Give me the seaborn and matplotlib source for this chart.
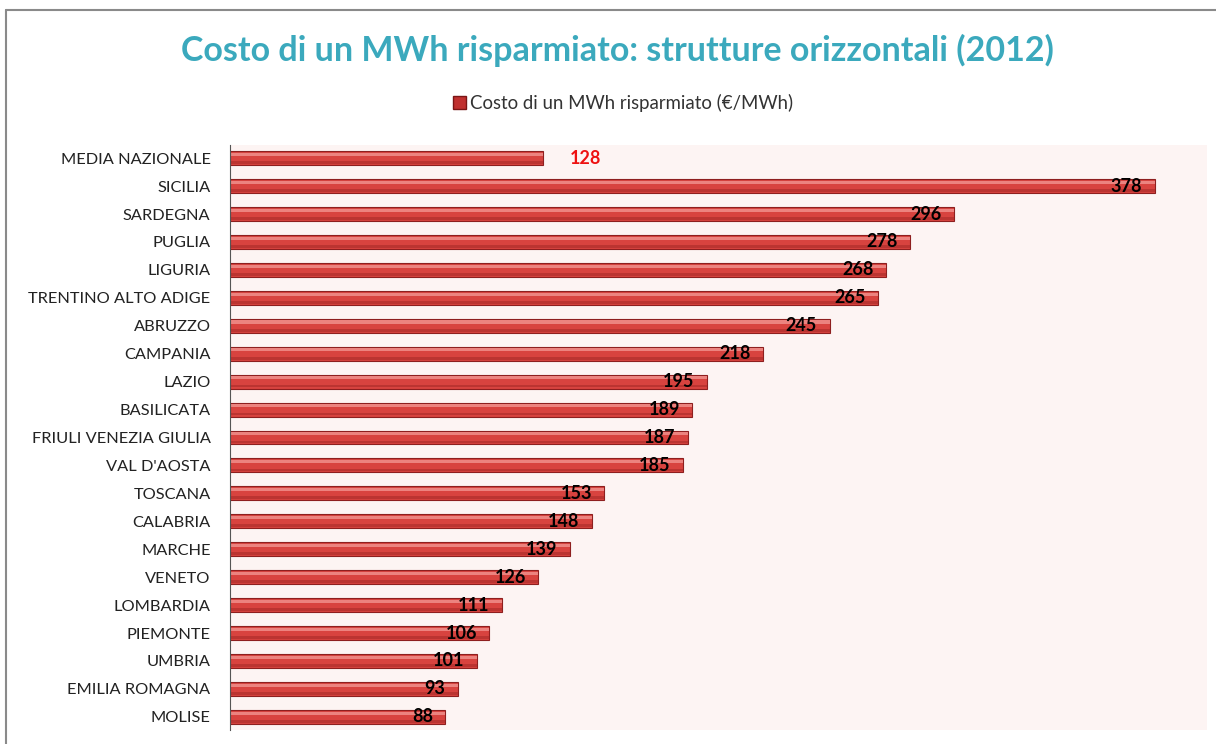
import numpy as np
import pandas as pd
import matplotlib
matplotlib.use("Agg")
import matplotlib.pyplot as plt
import seaborn as sns
from matplotlib.lines import Line2D
from matplotlib.patches import Rectangle

# regioni e costo (€/MWh)
regioni = ["MEDIA NAZIONALE", "SICILIA", "SARDEGNA", "PUGLIA", "LIGURIA",
           "TRENTINO ALTO ADIGE", "ABRUZZO", "CAMPANIA", "LAZIO", "BASILICATA",
           "FRIULI VENEZIA GIULIA", "VAL D'AOSTA", "TOSCANA", "CALABRIA",
           "MARCHE", "VENETO", "LOMBARDIA", "PIEMONTE", "UMBRIA",
           "EMILIA ROMAGNA", "MOLISE"]
costo = [128, 378, 296, 278, 268, 265, 245, 218, 195, 189, 187, 185,
         153, 148, 139, 126, 111, 106, 101, 93, 88]
serie = "Costo di un MWh risparmiato (€/MWh)"
titolo = "Costo di un MWh risparmiato: strutture orizzontali (2012)"

df = pd.DataFrame({"regione": regioni, "costo": costo})

sns.set_style("white")
plt.rcParams['font.family'] = ['Lato', 'DejaVu Sans']

fig = plt.figure(figsize=(12.16, 7.44), dpi=100)
fig.patch.set_facecolor("white")
ax = fig.add_axes([230 / 1216, 1 - 730 / 744, (1207 - 230) / 1216, (730 - 145) / 744])
ax.set_facecolor("#fdf4f3")

sns.barplot(data=df, y="regione", x="costo", orient="h", color="#d8433f",
            saturation=1, width=0.5, edgecolor="#8e1f1f", linewidth=0.8, ax=ax)

# light stripe on top and darker stripe at the bottom of each bar
for p in list(ax.patches):
    x0, y0 = p.get_x(), p.get_y()
    w, h = p.get_width(), p.get_height()
    ax.add_patch(Rectangle((x0, y0 + h * 0.12), w, h * 0.22,
                           facecolor="#f29490", edgecolor="none", alpha=0.8))
    ax.add_patch(Rectangle((x0, y0 + h * 0.72), w, h * 0.2,
                           facecolor="#a82a28", edgecolor="none", alpha=0.6))

ax.set_xlim(0, (1207 - 230) / 2.447)
ax.set_ylim(20.47, -0.47)
ax.set_xlabel("")
ax.set_ylabel("")
ax.set_xticks([])
ax.tick_params(axis="y", length=0, pad=14, labelsize=11.8, labelcolor="#222222")
for s in ["top", "right", "bottom"]:
    ax.spines[s].set_visible(False)
ax.spines["left"].set_color("#555555")
ax.spines["left"].set_linewidth(0.8)

for i, v in enumerate(costo):
    if i == 0:
        ax.annotate(str(v), (v, i), xytext=(19, 0), textcoords="offset points",
                    ha="left", va="center", color="#ee1111",
                    fontsize=13, fontweight="bold")
    else:
        ax.annotate(str(v), (v, i), xytext=(-9, 0), textcoords="offset points",
                    ha="right", va="center", color="black",
                    fontsize=13, fontweight="bold")

fig.text(617 / 1216, 1 - 50 / 744, titolo, ha="center", va="center",
         fontsize=24.5, fontweight="bold", color="#3ba9bd")

handle = Rectangle((0, 0), 1, 1, facecolor="#c0302f", edgecolor="#7a1515")
fig.legend([handle], [serie], loc="center", bbox_to_anchor=(623 / 1216, 1 - 103 / 744),
           frameon=False, fontsize=13.4, handlelength=0.7, handleheight=0.7,
           handletextpad=0.25, labelcolor="#333333")

# frame of the chart area
fig.add_artist(Line2D([6 / 1216, 6 / 1216], [0, 1 - 10 / 744],
                      color="#8a8a8a", linewidth=1.5, transform=fig.transFigure))
fig.add_artist(Line2D([6 / 1216, 1], [1 - 10 / 744, 1 - 10 / 744],
                      color="#8a8a8a", linewidth=1.5, transform=fig.transFigure))

fig.savefig("out.png", dpi=100, facecolor="white")
